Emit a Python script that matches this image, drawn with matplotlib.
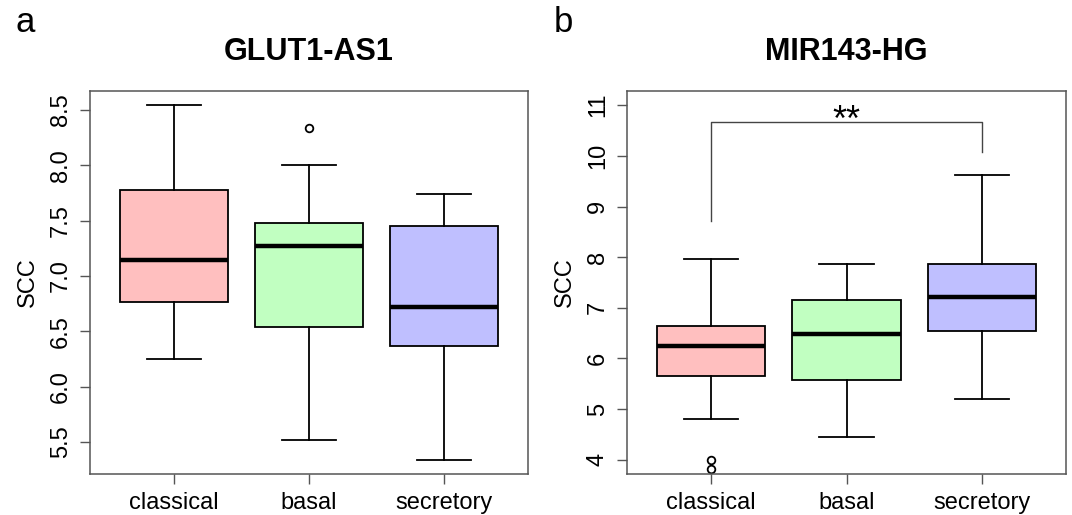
import matplotlib
matplotlib.use("Agg")
import matplotlib.pyplot as plt

plt.rcParams['font.family'] = ['Liberation Sans', 'DejaVu Sans']

# Data (box summaries)
groups = ["classical", "basal", "secretory"]
colors = ["#FFBFBF", "#C1FFC1", "#BFBFFF"]

# GLUT1-AS1
glut_whislo = [6.25, 5.52, 5.34]
glut_q1 = [6.76, 6.54, 6.37]
glut_med = [7.14, 7.27, 6.72]
glut_q3 = [7.78, 7.48, 7.45]
glut_whishi = [8.545, 8.0, 7.74]
glut_fliers = [[], [8.34], []]

# MIR143-HG
mir_whislo = [4.81, 4.45, 5.2]
mir_q1 = [5.66, 5.57, 6.54]
mir_med = [6.25, 6.48, 7.22]
mir_q3 = [6.64, 7.16, 7.86]
mir_whishi = [7.97, 7.87, 9.63]
mir_fliers = [[4.0, 3.82], [], []]

# significance bar classical vs secretory
sig_y = 10.66
sig_left_end = 8.72
sig_right_end = 10.07


def make_stats(lo, q1, med, q3, hi, fl):
    out = []
    for i in range(len(lo)):
        out.append(dict(whislo=lo[i], q1=q1[i], med=med[i], q3=q3[i],
                        whishi=hi[i], fliers=fl[i], label=groups[i]))
    return out


def draw_panel(ax, stats, title, ylim, yticks, yticklabels):
    bp = ax.bxp(stats, positions=[1, 2, 3], widths=0.8, capwidths=0.4,
                patch_artist=True, showfliers=True,
                boxprops=dict(linewidth=1.3, edgecolor='black'),
                whiskerprops=dict(linewidth=1.3, color='black'),
                capprops=dict(linewidth=1.3, color='black'),
                medianprops=dict(linewidth=3.2, color='black', solid_capstyle='butt'),
                flierprops=dict(marker='o', markersize=5.5, markerfacecolor='none',
                                markeredgecolor='black', markeredgewidth=1.3))
    for patch, c in zip(bp['boxes'], colors):
        patch.set_facecolor(c)
    ax.set_xlim(0.38, 3.62)
    ax.set_ylim(*ylim)
    ax.set_yticks(yticks)
    ax.set_yticklabels(yticklabels)
    ax.set_xticks([1, 2, 3])
    ax.set_xticklabels(groups)
    ax.tick_params(axis='both', labelsize=17, length=7, width=1.0,
                   color='#555555', pad=6)
    plt.setp(ax.get_yticklabels(), rotation=90, va='center')
    for s in ax.spines.values():
        s.set_color('#555555')
        s.set_linewidth(1.1)
    ax.set_ylabel("SCC", fontsize=17, labelpad=8)
    ax.set_title(title, fontsize=22, fontweight='bold', pad=22)


fig = plt.figure(figsize=(10.72, 5.15), dpi=100)
ax1 = fig.add_axes([90 / 1072, 41 / 515, 438 / 1072, 383 / 515])
ax2 = fig.add_axes([627 / 1072, 41 / 515, 439 / 1072, 383 / 515])

draw_panel(ax1, make_stats(glut_whislo, glut_q1, glut_med, glut_q3, glut_whishi, glut_fliers),
           "GLUT1-AS1", (5.21, 8.67),
           [5.5, 6.0, 6.5, 7.0, 7.5, 8.0, 8.5],
           ["5.5", "6.0", "6.5", "7.0", "7.5", "8.0", "8.5"])
draw_panel(ax2, make_stats(mir_whislo, mir_q1, mir_med, mir_q3, mir_whishi, mir_fliers),
           "MIR143-HG", (3.72, 11.28),
           [4, 5, 6, 7, 8, 9, 10, 11],
           ["4", "5", "6", "7", "8", "9", "10", "11"])

ax2.plot([1, 1, 3, 3], [sig_left_end, sig_y, sig_y, sig_right_end],
         color='#444444', linewidth=1.0)
ax2.text(2, sig_y - 0.32, "**", ha='center', va='bottom', fontsize=26)

fig.text(25 / 1072, 1 - 22 / 515, "a", fontsize=25, ha='center', va='center')
fig.text(563 / 1072, 1 - 22 / 515, "b", fontsize=25, ha='center', va='center')

fig.savefig("out.png", dpi=100)
